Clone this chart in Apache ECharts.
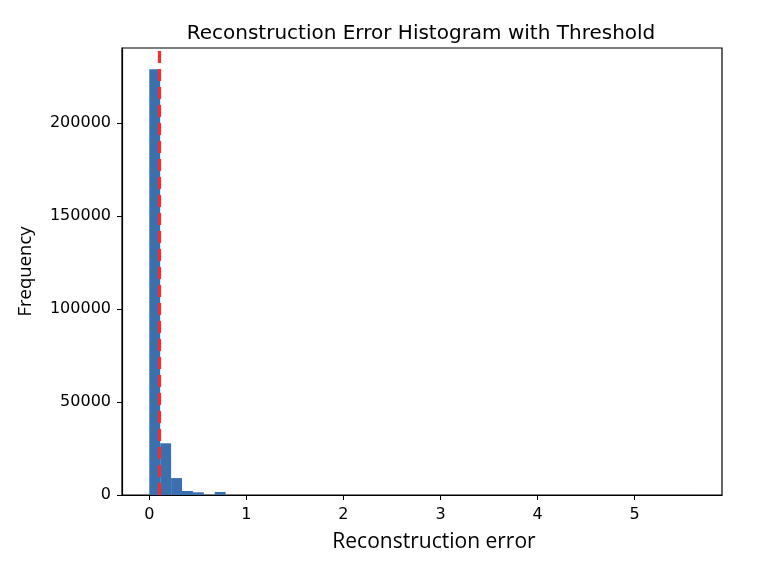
<!DOCTYPE html>
<html>
<head>
<meta charset="utf-8">
<script src="https://cdn.jsdelivr.net/npm/echarts@6/dist/echarts.min.js"></script>
<style>
  html, body { margin: 0; padding: 0; background: #fff; }
  #chart { width: 758px; height: 568px; }
</style>
</head>
<body>
<div id="chart"></div>
<script>
// histogram: 50 bins from 0 to ~5.62
const binStart = 0
const binWidth = 0.1124
const counts = [
  228900, 27800, 9100, 2150, 1450, 0, 1600, 0, 0, 0,
  0, 0, 0, 0, 0, 0, 0, 0, 0, 0,
  0, 0, 0, 0, 0, 0, 0, 0, 0, 0,
  0, 0, 0, 0, 0, 0, 0, 0, 0, 0,
  0, 0, 0, 0, 0, 0, 0, 0, 0, 30,
]
const threshold = 0.1
const xTicks = [0, 1, 2, 3, 4, 5]
const yTicks = [0, 50000, 100000, 150000, 200000]

const bins = counts.map((c, i) => [binStart + i * binWidth, binStart + (i + 1) * binWidth, c])

const chart = echarts.init(document.getElementById('chart'))

const tickFont = { color: '#000', fontFamily: 'DejaVu Sans', fontSize: 16 }

chart.setOption({
  animation: false,
  title: {
    text: 'Reconstruction Error Histogram with Threshold',
    left: 416,
    top: 19,
    textAlign: 'center',
    textStyle: { fontFamily: 'DejaVu Sans', fontSize: 20, fontWeight: 'normal', color: '#000' },
  },
  grid: {
    left: 122,
    right: 36,
    top: 48,
    bottom: 73,
    show: true,
    borderColor: '#000',
    borderWidth: 1.2,
  },
  xAxis: {
    type: 'value',
    min: -0.281,
    max: 5.9,
    name: 'Reconstruction error',
    nameLocation: 'middle',
    nameGap: 37,
    nameTextStyle: { fontFamily: 'Open Sans', fontSize: 21, color: '#000', padding: [0, 0, 0, 24] },
    axisLine: { show: true, onZero: false, lineStyle: { color: '#000', width: 1.2 } },
    axisTick: { show: true, length: 5, customValues: xTicks, lineStyle: { color: '#000' } },
    axisLabel: { ...tickFont, margin: 12, customValues: xTicks },
    splitLine: { show: false },
  },
  yAxis: {
    type: 'value',
    min: 0,
    max: 240300,
    name: 'Frequency',
    nameLocation: 'middle',
    nameGap: 87,
    nameTextStyle: { fontFamily: 'Open Sans', fontSize: 18.5, color: '#000' },
    axisLine: { show: true, onZero: false, lineStyle: { color: '#000', width: 1.2 } },
    axisTick: { show: true, length: 5, customValues: yTicks, lineStyle: { color: '#000' } },
    axisLabel: { ...tickFont, margin: 11, customValues: yTicks, formatter: (v) => String(v) },
    splitLine: { show: false },
  },
  series: [
    {
      type: 'custom',
      data: bins,
      encode: { x: [0, 1], y: 2 },
      renderItem: (params, api) => {
        const p0 = api.coord([api.value(0), api.value(2)])
        const p1 = api.coord([api.value(1), 0])
        return {
          type: 'rect',
          shape: { x: p0[0], y: p0[1], width: p1[0] - p0[0], height: p1[1] - p0[1] },
          style: { fill: '#3a70b0' },
        }
      },
      markLine: {
        silent: true,
        symbol: 'none',
        label: { show: false },
        lineStyle: { color: '#f03030', type: [12, 6], width: 3.3 },
        data: [{ xAxis: threshold }],
      },
    },
  ],
})
</script>
</body>
</html>
